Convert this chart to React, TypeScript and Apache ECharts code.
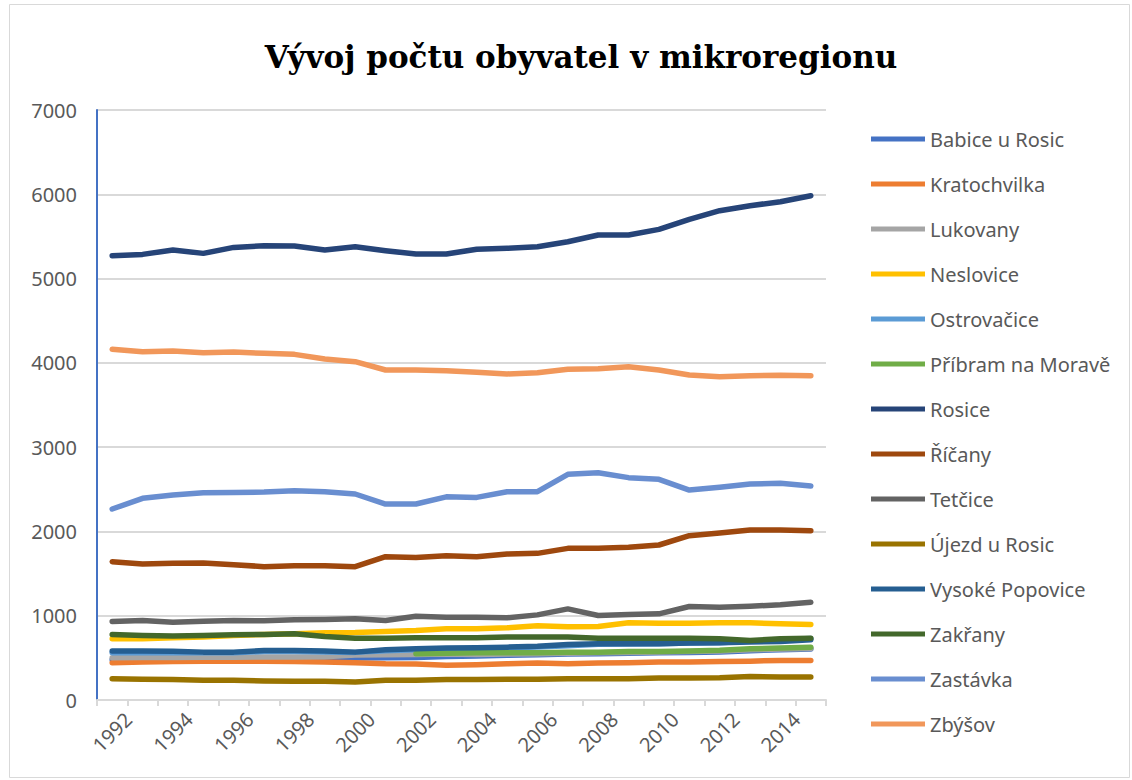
import React, { useEffect, useRef } from "react";
import * as echarts from "echarts";

const years = ["1992","1993","1994","1995","1996","1997","1998","1999","2000","2001","2002","2003","2004","2005","2006","2007","2008","2009","2010","2011","2012","2013","2014","2015"];

const babice = [478, 480, 484, 486, 488, 490, 492, 494, 497, 500, 505, 515, 522, 530, 538, 545, 550, 555, 560, 565, 570, 585, 595, 605];
const kratochvilka = [442, 450, 458, 461, 461, 461, 458, 450, 442, 430, 426, 411, 419, 430, 438, 430, 438, 442, 450, 450, 458, 461, 470, 470];
const lukovany = [502, 505, 505, 507, 508, 510, 510, 512, 535, 538, 541, 545, 540, 545, 550, 555, 560, 565, 570, 575, 580, 595, 605, 612];
const neslovice = [726, 726, 738, 746, 766, 777, 785, 797, 800, 813, 825, 845, 845, 856, 880, 870, 872, 916, 912, 912, 916, 916, 904, 896];
const ostrovacice = [560, 560, 562, 560, 560, 575, 575, 570, 565, 585, 595, 605, 612, 620, 630, 645, 660, 665, 668, 675, 680, 700, 715, 730];
const pribram = [null, null, null, null, null, null, null, null, null, null, 549, 556, 560, 560, 560, 568, 568, 576, 576, 580, 590, 608, 616, 627];
const rosice = [5271, 5287, 5339, 5299, 5370, 5390, 5386, 5339, 5378, 5331, 5291, 5291, 5347, 5359, 5378, 5437, 5517, 5517, 5584, 5703, 5805, 5864, 5912, 5983];
const ricany = [1641, 1614, 1622, 1625, 1606, 1582, 1594, 1594, 1582, 1700, 1692, 1712, 1700, 1732, 1740, 1799, 1799, 1811, 1839, 1949, 1981, 2016, 2016, 2008];
const tetcice = [931, 943, 923, 935, 943, 940, 951, 955, 963, 943, 994, 982, 982, 975, 1010, 1081, 1002, 1014, 1022, 1109, 1101, 1113, 1129, 1160];
const ujezd = [253, 245, 242, 233, 233, 226, 222, 222, 213, 233, 233, 242, 242, 245, 245, 253, 253, 253, 261, 261, 265, 280, 272, 272];
const vysokePopovice = [580, 580, 578, 568, 568, 588, 588, 580, 568, 596, 608, 616, 620, 627, 639, 659, 667, 667, 667, 675, 679, 687, 695, 715];
const zakrany = [777, 766, 758, 766, 774, 777, 785, 754, 734, 734, 738, 738, 738, 746, 746, 746, 734, 734, 734, 734, 726, 706, 726, 734];
const zastavka = [2266, 2393, 2432, 2459, 2463, 2467, 2483, 2471, 2444, 2325, 2325, 2410, 2404, 2471, 2471, 2678, 2697, 2638, 2618, 2491, 2523, 2563, 2571, 2539];
const zbysov = [4161, 4132, 4140, 4120, 4128, 4113, 4101, 4045, 4014, 3915, 3915, 3905, 3888, 3868, 3883, 3923, 3931, 3955, 3915, 3856, 3836, 3848, 3852, 3848];

const seriesList = [
  { name: "Babice u Rosic", data: babice, color: "#4472C4" },
  { name: "Kratochvilka", data: kratochvilka, color: "#ED7D31" },
  { name: "Lukovany", data: lukovany, color: "#A5A5A5" },
  { name: "Neslovice", data: neslovice, color: "#FFC000" },
  { name: "Ostrovačice", data: ostrovacice, color: "#5B9BD5" },
  { name: "Příbram na Moravě", data: pribram, color: "#70AD47" },
  { name: "Rosice", data: rosice, color: "#264478" },
  { name: "Říčany", data: ricany, color: "#9E480E" },
  { name: "Tetčice", data: tetcice, color: "#636363" },
  { name: "Újezd u Rosic", data: ujezd, color: "#997300" },
  { name: "Vysoké Popovice", data: vysokePopovice, color: "#255E91" },
  { name: "Zakřany", data: zakrany, color: "#43682B" },
  { name: "Zastávka", data: zastavka, color: "#698ED0" },
  { name: "Zbýšov", data: zbysov, color: "#F1975A" },
];

export default function App() {
  const ref = useRef<HTMLDivElement>(null);
  useEffect(() => {
    document.body.style.margin = "0";
    const chart = echarts.init(ref.current!, null, { renderer: "svg" });
    const font = "'Noto Sans', sans-serif";
    chart.setOption({
      animation: false,
      backgroundColor: "#ffffff",
      title: {
        text: "Vývoj počtu obyvatel v mikroregionu",
        left: 576,
        top: 36,
        textAlign: "center",
        textStyle: {
          fontFamily: "'DejaVu Serif', serif",
          fontWeight: "bold",
          fontSize: 31,
          color: "#000000",
        },
      },
      graphic: [
        {
          type: "rect",
          shape: { x: 9.5, y: 4.5, width: 1120, height: 773 },
          style: { fill: "none", stroke: "#d9d9d9", lineWidth: 1 },
          silent: true,
        },
      ],
      grid: { left: 97, right: 306, top: 110, bottom: 80 },
      legend: {
        orient: "vertical",
        left: 866,
        top: 122,
        itemWidth: 54,
        itemHeight: 14,
        itemGap: 21,
        textStyle: { fontFamily: font, fontSize: 20, color: "#595959", lineHeight: 24 },
        data: seriesList.map((s) => ({
          name: s.name,
          icon: "path://M0,0 L54,0 L54,5 L0,5 Z",
          itemStyle: { color: s.color },
        })),
      },
      xAxis: {
        type: "category",
        data: years,
        boundaryGap: true,
        axisLine: { lineStyle: { color: "#d9d9d9", width: 2 } },
        axisTick: { show: true, interval: 0, length: 6, lineStyle: { color: "#d9d9d9", width: 2 } },
        axisLabel: {
          interval: 1,
          rotate: 45,
          align: "center",
          verticalAlign: "middle",
          fontFamily: font,
          fontSize: 20,
          color: "#595959",
          margin: 32,
        },
      },
      yAxis: {
        type: "value",
        min: 0,
        max: 7000,
        interval: 1000,
        axisLine: { show: true, lineStyle: { color: "#4472C4", width: 2 } },
        axisTick: { show: false },
        splitLine: { lineStyle: { color: "#d9d9d9", width: 2 } },
        axisLabel: {
          fontFamily: font,
          fontSize: 20,
          color: "#595959",
          margin: 20,
          formatter: (v: number) => String(v),
        },
      },
      series: seriesList.map((s) => ({
        name: s.name,
        type: "line",
        data: s.data,
        symbol: "none",
        connectNulls: false,
        itemStyle: { color: s.color },
        lineStyle: { color: s.color, width: 5.5, cap: "round", join: "round" },
      })),
    });
    return () => chart.dispose();
  }, []);
  return <div ref={ref} style={{ width: 1132, height: 780 }} />;
}
